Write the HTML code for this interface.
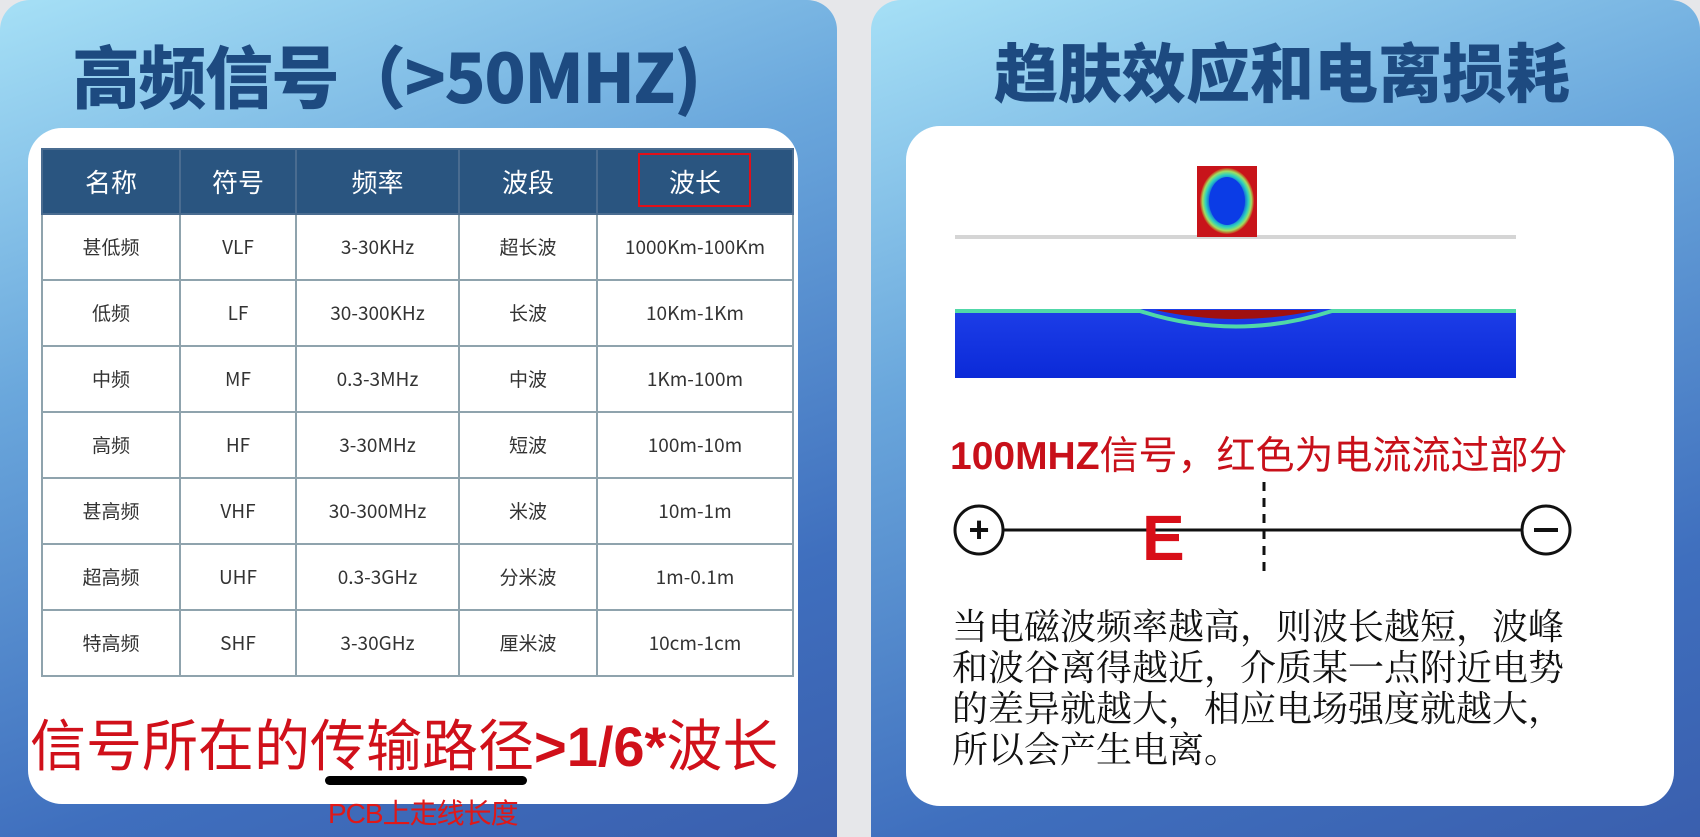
<!DOCTYPE html>
<html><head><meta charset="utf-8">
<style>
*{margin:0;padding:0;box-sizing:border-box}
body{width:1700px;height:837px;overflow:hidden;background:#e6e7ea;position:relative;font-family:"Liberation Sans","Noto Sans CJK SC",sans-serif}
.panel{position:absolute;top:0;height:837px;border-radius:30px 30px 0 0;background:linear-gradient(160deg,#a6e0f6 0%,#6aa7dc 35%,#3f6fbe 75%,#3a5fae 100%)}
.card{position:absolute;background:#fff;border-radius:34px}
.title{position:absolute;color:#1d4a80;font-weight:900;font-family:"Noto Sans CJK SC",sans-serif;white-space:nowrap}
table{position:absolute;left:41px;top:148px;border-collapse:collapse;width:753px;font-size:19px;color:#333;font-family:"Noto Sans CJK SC",sans-serif}
td,th{border:2px solid #8fa3ad;text-align:center;vertical-align:middle;height:66px;line-height:24px}
th{background:#2a5580;color:#fff;font-weight:normal;font-size:26px;height:65px;border-color:#4a6c90}
.abs{position:absolute;white-space:nowrap}
</style></head><body>
<div class="panel" style="left:0;width:837px"></div>
<div class="panel" style="left:871px;width:829px"></div>

<div class="title" style="left:72px;top:24px;font-size:68px;letter-spacing:-1.5px">高频信号（&gt;50MHZ)</div>
<div class="title" style="left:994px;top:24px;font-size:64px;">趋肤效应和电离损耗</div>

<div class="card" style="left:28px;top:128px;width:770px;height:676px"></div>
<div class="card" style="left:906px;top:126px;width:768px;height:680px"></div>

<table>
<tr><th style="width:138px">名称</th><th style="width:116px">符号</th><th style="width:163px">频率</th><th style="width:138px">波段</th><th>波长</th></tr>
<tr><td>甚低频</td><td>VLF</td><td>3-30KHz</td><td>超长波</td><td>1000Km-100Km</td></tr>
<tr><td>低频</td><td>LF</td><td>30-300KHz</td><td>长波</td><td>10Km-1Km</td></tr>
<tr><td>中频</td><td>MF</td><td>0.3-3MHz</td><td>中波</td><td>1Km-100m</td></tr>
<tr><td>高频</td><td>HF</td><td>3-30MHz</td><td>短波</td><td>100m-10m</td></tr>
<tr><td>甚高频</td><td>VHF</td><td>30-300MHz</td><td>米波</td><td>10m-1m</td></tr>
<tr><td>超高频</td><td>UHF</td><td>0.3-3GHz</td><td>分米波</td><td>1m-0.1m</td></tr>
<tr><td>特高频</td><td>SHF</td><td>3-30GHz</td><td>厘米波</td><td>10cm-1cm</td></tr>
</table>
<div class="abs" style="left:638px;top:153px;width:113px;height:54px;border:2px solid #e0101a"></div>

<div class="abs" style="left:30px;top:702px;font-size:56px;color:#d0101a;font-family:'Liberation Sans','Noto Sans CJK SC',sans-serif;">信号所在的传输路径<b>&gt;1/6*</b>波长</div>
<div class="abs" style="left:325px;top:776px;width:202px;height:9px;background:#000;border-radius:5px"></div>
<div class="abs" style="left:328px;top:792px;font-size:28px;color:#e01818;letter-spacing:-1px">PCB上走线长度</div>

<svg class="abs" style="left:0;top:0" width="1700" height="837">
<defs>
<radialGradient id="g1" cx="50%" cy="50%" r="55%"><stop offset="0.55" stop-color="#0a3ee0"/><stop offset="0.72" stop-color="#2bd0c0"/><stop offset="0.82" stop-color="#a0e060"/><stop offset="0.92" stop-color="#d21a10"/></radialGradient>
<linearGradient id="g2" x1="0" y1="0" x2="0" y2="1"><stop offset="0" stop-color="#1d3ee8"/><stop offset="1" stop-color="#0b2ad8"/></linearGradient>
</defs>
<rect x="955" y="235" width="561" height="4" fill="#d5d5d5"/>
<rect x="1197" y="166" width="60" height="71" fill="#c8141a"/>
<ellipse cx="1227" cy="201" rx="27" ry="33" fill="url(#g1)"/>
<ellipse cx="1227" cy="201" rx="18" ry="24" fill="#0b3ce6"/>
<rect x="955" y="309" width="561" height="69" fill="url(#g2)"/>
<path d="M955 311 L1140 311 Q1236 342 1332 311 L1516 311" stroke="#50d8a8" stroke-width="4" fill="none"/>
<path d="M1155 310 Q1236 328 1318 310 Z" fill="#a01010"/>
<line x1="980" y1="530" x2="1545" y2="530" stroke="#111" stroke-width="3"/>
<circle cx="979" cy="530" r="24" fill="#fff" stroke="#111" stroke-width="3"/>
<text x="979" y="542" font-size="36" text-anchor="middle" font-family="Liberation Sans" font-weight="bold" fill="#111">+</text>
<circle cx="1546" cy="530" r="24" fill="#fff" stroke="#111" stroke-width="3"/>
<line x1="1534" y1="530" x2="1558" y2="530" stroke="#111" stroke-width="4"/>
<line x1="1264" y1="482" x2="1264" y2="578" stroke="#111" stroke-width="3" stroke-dasharray="9,7"/>
<text x="1142" y="560" font-size="64" font-family="Liberation Sans" font-weight="bold" fill="#d80e18">E</text>
</svg>

<div class="abs" style="left:950px;top:425px;font-size:39px;color:#c8101a;"><b>100MHZ</b>信号，红色为电流流过部分</div>
<div class="abs" style="left:952px;top:607px;width:700px;font-size:36px;line-height:41px;color:#111;font-family:'Liberation Serif','Noto Serif CJK SC',serif;white-space:normal">当电磁波频率越高，则波长越短，波峰<br>和波谷离得越近，介质某一点附近电势<br>的差异就越大，相应电场强度就越大，<br>所以会产生电离。</div>
</body></html>
